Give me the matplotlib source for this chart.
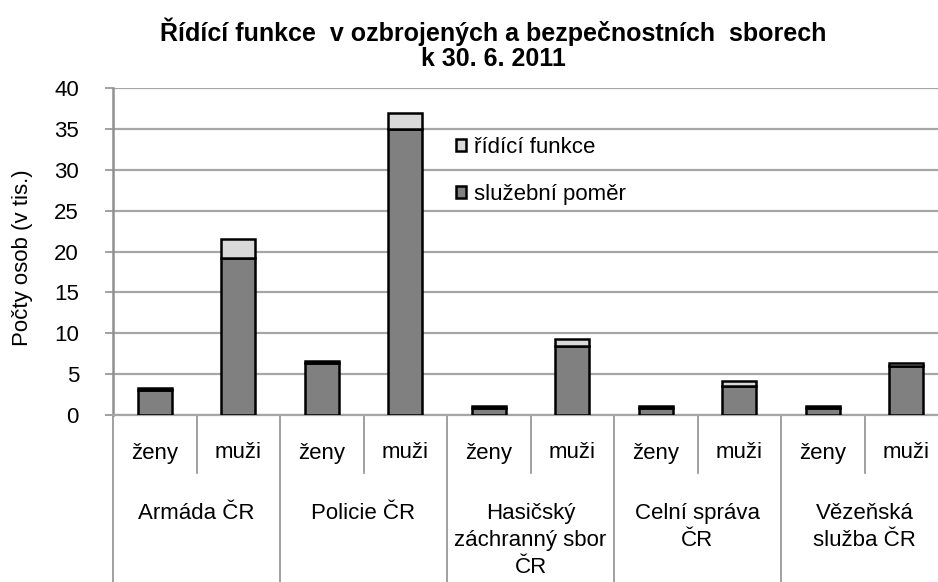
"""Stacked bars: leadership positions in armed and security forces (CZ, 2011)."""

import matplotlib.pyplot as plt
import matplotlib.transforms as mtransforms
import numpy as np

plt.rcParams["font.family"] = ["Liberation Sans", "DejaVu Sans"]

# data (thousands of persons)
sbory = ["Armáda ČR", "Policie ČR", "Hasičský\nzáchranný sbor\nČR",
         "Celní správa\nČR", "Vězeňská\nslužba ČR"]
pohlavi = ["ženy", "muži"]
sluzebni_pomer = [3.0, 19.2, 6.3, 35.0, 0.9, 8.5, 0.9, 3.6, 0.9, 6.0]
ridici_funkce = [0.35, 2.3, 0.3, 1.9, 0.25, 0.8, 0.25, 0.5, 0.25, 0.3]

W, H = 938, 582
FS = 16
fig = plt.figure(figsize=(W / 100, H / 100), dpi=100)
# plot area in pixels: x 113..948 (runs off the right edge), y 88..415
ax = fig.add_axes([113 / W, 1 - 415 / H, (948 - 113) / W, (415 - 88) / H])

x = np.arange(len(sluzebni_pomer))
bw = 0.41
ax.bar(x, sluzebni_pomer, width=bw, color="#808080", edgecolor="black",
       linewidth=1.8, label="služební poměr", zorder=3)
ax.bar(x, ridici_funkce, width=bw, bottom=sluzebni_pomer, color="#d9d9d9",
       edgecolor="black", linewidth=1.8, label="řídící funkce", zorder=3)

ax.set_xlim(-0.5, len(x) - 0.5)
ax.set_ylim(0, 40)
ax.set_yticks(range(0, 41, 5))
ax.tick_params(axis="y", labelsize=FS, length=5.5, width=1.2, color="#909090",
               direction="out", pad=19)
ax.set_xticks([])
ax.grid(axis="y", color="#a6a6a6", linewidth=1.6, zorder=0)
for s in ["top", "right"]:
    ax.spines[s].set_visible(False)
ax.spines["left"].set_color("#909090")
ax.spines["left"].set_linewidth(1.8)
ax.spines["bottom"].set_color("#a6a6a6")
ax.spines["bottom"].set_linewidth(1.6)

ax.set_ylabel("Počty osob (v tis.)", fontsize=FS)
ax.yaxis.set_label_coords((33 - 113) / 835, 0.48)

# two-level category axis
tr = mtransforms.blended_transform_factory(ax.transData, ax.transAxes)
px = 1 / 327  # one pixel in axes units (vertical)
for i in x:
    ax.text(i, -38 * px, pohlavi[i % 2], transform=tr, ha="center",
            va="center", fontsize=FS)
for g, name in enumerate(sbory):
    ax.text(2 * g + 0.5, -88 * px, name, transform=tr, ha="center", va="top",
            fontsize=FS, linespacing=1.36)
    ax.plot([2 * g + 0.5] * 2, [0, -58 * px], transform=tr, color="#909090",
            lw=1.2, clip_on=False)
for b in np.arange(-0.5, len(x), 2):
    ax.plot([b, b], [0, -170 * px], transform=tr, color="#909090",
            lw=1.2, clip_on=False)

handles, labels = ax.get_legend_handles_labels()
ax.legend(handles[::-1], labels[::-1], loc="upper left",
          bbox_to_anchor=((456 - 113) / 835, (415 - 137) / 327),
          frameon=False, fontsize=FS, handlelength=0.45, handleheight=0.45,
          handletextpad=0.35, labelspacing=1.15, borderaxespad=0, borderpad=0)

fig.text(493 / W, 1 - 44 / H,
         "Řídící funkce  v ozbrojených a bezpečnostních  sborech\nk 30. 6. 2011",
         ha="center", va="center", fontsize=18, fontweight="bold",
         linespacing=1.05)

fig.savefig("out.png", dpi=100)
